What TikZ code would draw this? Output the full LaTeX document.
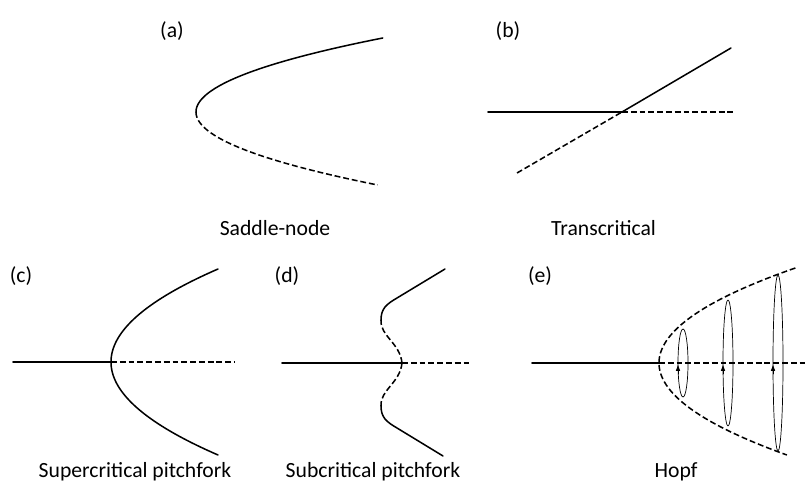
\documentclass[tikz,border=0pt]{standalone}
\usepackage{fontspec}
\setmainfont{Carlito}
\usetikzlibrary{arrows.meta}

\begin{document}
\begin{tikzpicture}[line join=round, line cap=round, x=0.03cm, y=-0.03cm,
	ben/.style={line width=1.3pt},
	khongben/.style={line width=1.3pt, line cap=butt, dash pattern=on 5pt off 2.5pt},
	vong/.style={line width=0.6pt},
	chu/.style={font=\fontsize{18.5}{20}\selectfont, inner sep=0pt}]
	\useasboundingbox (0,0) rectangle (810,487);
	
	% 1. (a) Nút yên ngựa
	\draw[ben] plot[domain=-74:0, samples=60, variable=\t] ({196+0.0341*\t*\t}, {112+\t});
	\draw[khongben] plot[domain=0:73, samples=60, variable=\t] ({196+0.0341*\t*\t}, {112+\t});
	\node[chu] (nhanA) at (172,31) {(a)};
	\node[chu] (tenA) at (275,228) {Saddle-node};
	
	% 2. (b) Tới hạn chéo
	\draw[ben] (488,112) -- (622,112) -- (731,48);
	\draw[khongben] (622,112) -- (735,112);
	\draw[khongben] (517,173) -- (622,112);
	\node[chu] (nhanB) at (508,31) {(b)};
	\node[chu, anchor=west] (tenB) at (551,228) {Transcritical};
	
	% 3. (c) Phân nhánh chĩa trên tới hạn
	\draw[ben] (13,362) -- (111,362);
	\draw[khongben] (111,362) -- (235,362);
	\draw[ben] plot[domain=-93:93, samples=100, variable=\t] ({111+0.01237*\t*\t}, {362+\t});
	\node[chu] (nhanC) at (21,276) {(c)};
	\node[chu] (tenC) at (135,472) {Supercritical pitchfork};
	
	% 4. (d) Phân nhánh chĩa dưới tới hạn
	\draw[ben] (282,363) -- (402,363);
	\draw[khongben] (402,363) -- (470,363);
	\draw[khongben] (402,363) .. controls (400,343) and (380,336) .. (381,320);
	\draw[khongben] (402,363) .. controls (400,383) and (380,390) .. (381,406);
	\draw[ben] (381,320) .. controls (381,308) and (387,304) .. (397,298) -- (445,269);
	\draw[ben] (381,406) .. controls (381,418) and (387,422) .. (397,428) -- (443,456);
	\node[chu] (nhanD) at (287,276) {(d)};
	\node[chu] (tenD) at (373,472) {Subcritical pitchfork};
	
	% 5. (e) Hopf
	\draw[ben] (532,363) -- (659,363);
	\draw[khongben] (659,363) -- (808,363);
	\draw[khongben] plot[domain=-95:92, samples=100, variable=\t] ({659+0.0151*\t*\t}, {363+\t});
	\foreach \cx/\ry in {683/34, 728/63, 778/88} {
		\draw[vong] (\cx,363) ellipse [x radius=5, y radius=\ry];
		\draw[vong, -{Triangle[length=5pt, width=3.5pt]}] (\cx-5,374) -- (\cx-5,365);
	}
	\node[chu] (nhanE) at (540,276) {(e)};
	\node[chu] (tenE) at (676,472) {Hopf};
\end{tikzpicture}
\end{document}
